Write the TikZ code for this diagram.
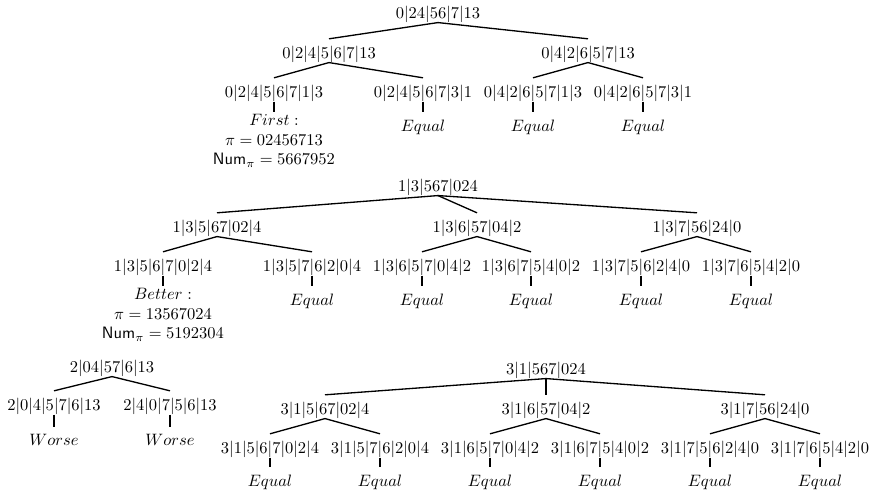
\documentclass[tikz,border=0pt]{standalone}
\begin{document}
\begin{tikzpicture}[x=0.6061pt,y=-0.6061pt,
  lab/.style={inner sep=0pt},
  leaf/.style={inner sep=4.5pt},
  info/.style={inner sep=1pt, anchor=north, align=center},
  br/.style={line width=0.8pt},
  tick/.style={line width=0.8pt}]
\useasboundingbox (0,0) rectangle (869,492);
% ---------------- top tree ----------------
\node[lab] (a0) at (438,14) {$0|24|56|7|13$};
\node[lab] (a1) at (329,54) {$0|2|4|5|6|7|13$};
\node[lab] (a2) at (588,54) {$0|4|2|6|5|7|13$};
\node[lab] (a11) at (274,93) {$0|2|4|5|6|7|1|3$};
\node[lab] (a12) at (423,93) {$0|2|4|5|6|7|3|1$};
\node[lab] (a21) at (533,93) {$0|4|2|6|5|7|1|3$};
\node[lab] (a22) at (643,93) {$0|4|2|6|5|7|3|1$};
\node[info] (a11i) at (274,112) {$First:$\\$\pi=02456713$\\$\mathsf{Num}_\pi=5667952$};
\node[leaf] (a12e) at (423,127) {$Equal$};
\node[leaf] (a21e) at (533,127) {$Equal$};
\node[leaf] (a22e) at (643,127) {$Equal$};
\foreach \p/\c in {a0/a1,a0/a2,a1/a11,a1/a12,a2/a21,a2/a22}
  \draw[br] (\p.south) -- ([yshift=4pt]\c.north);
\foreach \p/\c in {a11/a11i,a12/a12e,a21/a21e,a22/a22e}
  \draw[tick] (\p.south) -- (\c.north);
% ---------------- middle tree ----------------
\node[lab] (b0) at (438,187) {$1|3|567|024$};
\node[lab] (b1) at (217,228) {$1|3|5|67|02|4$};
\node[lab] (b2) at (477,228) {$1|3|6|57|04|2$};
\node[lab] (b3) at (697,228) {$1|3|7|56|24|0$};
\node[lab] (b11) at (163,267) {$1|3|5|6|7|0|2|4$};
\node[lab] (b12) at (312,267) {$1|3|5|7|6|2|0|4$};
\node[lab] (b21) at (422,267) {$1|3|6|5|7|0|4|2$};
\node[lab] (b22) at (531,267) {$1|3|6|7|5|4|0|2$};
\node[lab] (b31) at (641,267) {$1|3|7|5|6|2|4|0$};
\node[lab] (b32) at (751,267) {$1|3|7|6|5|4|2|0$};
\node[info] (b11i) at (163,286) {$Better:$\\$\pi=13567024$\\$\mathsf{Num}_\pi=5192304$};
\node[leaf] (b12e) at (312,301) {$Equal$};
\node[leaf] (b21e) at (422,301) {$Equal$};
\node[leaf] (b22e) at (531,301) {$Equal$};
\node[leaf] (b31e) at (641,301) {$Equal$};
\node[leaf] (b32e) at (751,301) {$Equal$};
\foreach \p/\c in {b0/b1,b0/b2,b0/b3,b1/b11,b1/b12,b2/b21,b2/b22,b3/b31,b3/b32}
  \draw[br] (\p.south) -- ([yshift=4pt]\c.north);
\foreach \p/\c in {b11/b11i,b12/b12e,b21/b21e,b22/b22e,b31/b31e,b32/b32e}
  \draw[tick] (\p.south) -- (\c.north);
% ---------------- bottom left tree ----------------
\node[lab] (c0) at (112,368) {$2|04|57|6|13$};
\node[lab] (c1) at (54,406) {$2|0|4|5|7|6|13$};
\node[lab] (c2) at (170,406) {$2|4|0|7|5|6|13$};
\node[leaf] (c1w) at (54,440) {$Worse$};
\node[leaf] (c2w) at (170,440) {$Worse$};
\foreach \p/\c in {c0/c1,c0/c2}
  \draw[br] (\p.south) -- ([yshift=4pt]\c.north);
\foreach \p/\c in {c1/c1w,c2/c2w}
  \draw[tick] (\p.south) -- (\c.north);
% ---------------- bottom right tree ----------------
\node[lab] (d0) at (546,370) {$3|1|567|024$};
\node[lab] (d1) at (325,410) {$3|1|5|67|02|4$};
\node[lab] (d2) at (546,410) {$3|1|6|57|04|2$};
\node[lab] (d3) at (765,410) {$3|1|7|56|24|0$};
\node[lab] (d11) at (270,449) {$3|1|5|6|7|0|2|4$};
\node[lab] (d12) at (380,449) {$3|1|5|7|6|2|0|4$};
\node[lab] (d21) at (490,449) {$3|1|6|5|7|0|4|2$};
\node[lab] (d22) at (600,449) {$3|1|6|7|5|4|0|2$};
\node[lab] (d31) at (710,449) {$3|1|7|5|6|2|4|0$};
\node[lab] (d32) at (820,449) {$3|1|7|6|5|4|2|0$};
\node[leaf] (d11e) at (270,482) {$Equal$};
\node[leaf] (d12e) at (380,482) {$Equal$};
\node[leaf] (d21e) at (490,482) {$Equal$};
\node[leaf] (d22e) at (600,482) {$Equal$};
\node[leaf] (d31e) at (710,482) {$Equal$};
\node[leaf] (d32e) at (820,482) {$Equal$};
\foreach \p/\c in {d0/d1,d0/d2,d0/d3,d1/d11,d1/d12,d2/d21,d2/d22,d3/d31,d3/d32}
  \draw[br] (\p.south) -- ([yshift=4pt]\c.north);
\foreach \p/\c in {d11/d11e,d12/d12e,d21/d21e,d22/d22e,d31/d31e,d32/d32e}
  \draw[tick] (\p.south) -- (\c.north);
\end{tikzpicture}
\end{document}
